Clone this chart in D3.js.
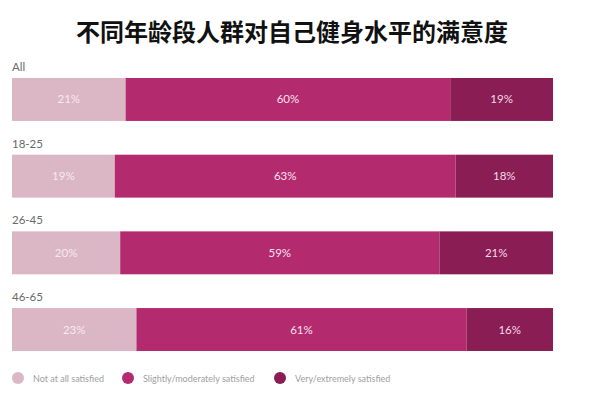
<!DOCTYPE html>
<html><head><meta charset="utf-8">
<script src="https://cdn.jsdelivr.net/npm/d3@7"></script>
<style>html,body{margin:0;padding:0;background:#fff;}svg{display:block;}</style>
</head><body>
<script>
const categories = ["All", "18-25", "26-45", "46-65"];
const seriesNames = ["Not at all satisfied", "Slightly/moderately satisfied", "Very/extremely satisfied"];
const notSatisfied = [21, 19, 20, 23];
const slightlySatisfied = [60, 63, 59, 61];
const verySatisfied = [19, 18, 21, 16];
const title = "不同年龄段人群对自己健身水平的满意度";

const W = 600, H = 393;
const colors = ["#dbb6c4", "#b42a6e", "#8a1d53"];
const textColors = ["#f6eaf0", "#f7e3ee", "#f4dbe8"];

const svg = d3.select("body").append("svg").attr("width", W).attr("height", H);

svg.append("text").attr("x", 292).attr("y", 41).attr("text-anchor", "middle")
  .attr("font-family", "'Noto Sans CJK SC', sans-serif").attr("font-weight", 700)
  .attr("font-size", 24).attr("fill", "#111").text(title);

const rows = categories.map((c, i) => ({cat: c, vals: [notSatisfied[i], slightlySatisfied[i], verySatisfied[i]]}));
const stack = d3.stack().keys([0,1,2]).value((d, k) => d.vals[k]);
const series = stack(rows);

const x = d3.scaleLinear().domain([0, 100]).range([12, 553]);
const y = d3.scaleBand().domain(categories).range([78, 351]).paddingInner(0.44).paddingOuter(0);

svg.append("g").selectAll("text").data(categories).join("text")
  .attr("x", 12).attr("y", d => y(d) - 7)
  .attr("font-family", "Lato, sans-serif").attr("font-size", 11.5).attr("fill", "#6a6a6a")
  .text(d => d);

const g = svg.append("g").selectAll("g").data(series).join("g");
g.selectAll("rect").data((s) => s.map(d => ({d, k: s.key}))).join("rect")
  .attr("x", o => x(o.d[0])).attr("width", o => x(o.d[1]) - x(o.d[0]))
  .attr("y", o => y(o.d.data.cat)).attr("height", y.bandwidth())
  .attr("fill", o => colors[o.k]);
g.selectAll("text").data((s) => s.map(d => ({d, k: s.key}))).join("text")
  .attr("x", o => (x(o.d[0]) + x(o.d[1])) / 2)
  .attr("y", o => y(o.d.data.cat) + y.bandwidth() / 2 + 4)
  .attr("text-anchor", "middle")
  .attr("font-family", "Lato, sans-serif").attr("font-size", 11.5)
  .attr("fill", o => textColors[o.k])
  .text(o => (o.d[1] - o.d[0]) + "%");

const legendX = [18, 128, 280];
const lg = svg.append("g").selectAll("g").data(seriesNames).join("g")
  .attr("transform", (d, i) => `translate(${legendX[i]},378)`);
lg.append("circle").attr("r", 6).attr("fill", (d, i) => colors[i]);
lg.append("text").attr("x", 15).attr("y", 3.5)
  .attr("font-family", "Lato, sans-serif").attr("font-size", 9).attr("fill", "#a0a0a0")
  .text(d => d);
</script>
</body></html>
